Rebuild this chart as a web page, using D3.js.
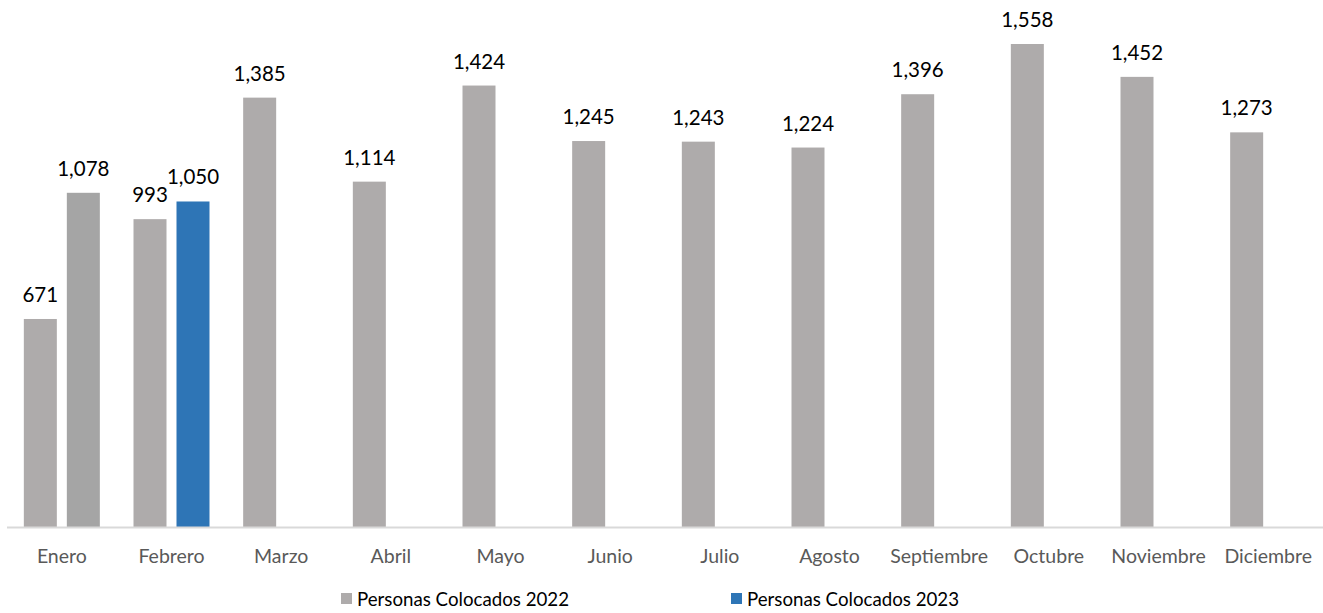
<!DOCTYPE html>
<html><head><meta charset="utf-8">
<script src="https://cdn.jsdelivr.net/npm/d3@7"></script>
<style>body{margin:0;background:#fff}svg{display:block}</style>
</head><body><svg id="c" width="1323" height="613"></svg>
<script>
const months = ["Enero","Febrero","Marzo","Abril","Mayo","Junio","Julio","Agosto","Septiembre","Octubre","Noviembre","Diciembre"];
const values2022 = [671,993,1385,1114,1424,1245,1243,1224,1396,1558,1452,1273];
const values2023 = [1078,1050,null,null,null,null,null,null,null,null,null,null];
const seriesNames = ["Personas Colocados 2022","Personas Colocados 2023"];
const seriesColors = ["#AEABAB","#2E75B6"];
const enero2023Color = "#A5A5A5";

const svg = d3.select("#c");
const W = 1323, H = 613;
const m = {left:7, right:0, top:44, bottom:86};
const x = d3.scaleBand().domain(months).range([m.left, W - m.right]).paddingInner(0).paddingOuter(0);
const y = d3.scaleLinear().domain([0, 1558]).range([H - m.bottom, m.top]);
const barW = 33, gap = 10;

function slotX(i, s){ const c = x(months[i]) + x.bandwidth()/2; return s===0 ? c - gap/2 - barW : c + gap/2; }

const font = "Lato, 'Open Sans', sans-serif";
const data = [];
months.forEach((mo,i)=>{
  data.push({i, s:0, v:values2022[i], color:seriesColors[0]});
  if (values2023[i] != null) data.push({i, s:1, v:values2023[i], color: i===0 ? enero2023Color : seriesColors[1]});
});

svg.selectAll("rect.bar").data(data).join("rect").attr("class","bar")
  .attr("x", d=>slotX(d.i,d.s)).attr("width", barW)
  .attr("y", d=>y(d.v)).attr("height", d=>y(0)-y(d.v)).attr("fill", d=>d.color);

svg.selectAll("text.lbl").data(data).join("text").attr("class","lbl")
  .attr("x", d=>slotX(d.i,d.s)+barW/2).attr("y", d=>y(d.v)-17)
  .attr("text-anchor","middle").attr("font-family",font).attr("font-size",20.5).attr("fill","#000")
  .text(d=>d3.format(",")(d.v));

svg.append("line").attr("x1",m.left).attr("x2",W).attr("y1",y(0)+0.5).attr("y2",y(0)+0.5)
  .attr("stroke","#D9D9D9").attr("stroke-width",2);

const ax = svg.append("g").attr("transform",`translate(0,${y(0)})`)
  .call(d3.axisBottom(x).tickSize(0).tickPadding(0));
ax.select(".domain").remove();
ax.selectAll("text").attr("font-family",font).attr("font-size",19.5).attr("fill","#595959").attr("dy",null).attr("y",36);

const leg = svg.append("g");
const legX = [341, 731];
seriesNames.forEach((n,k)=>{
  leg.append("rect").attr("x",legX[k]).attr("y",593).attr("width",11).attr("height",11).attr("fill",seriesColors[k]);
  leg.append("text").attr("x",legX[k]+16).attr("y",606).attr("font-family",font).attr("font-size",18.7).attr("fill","#000").text(n);
});
</script></body></html>
